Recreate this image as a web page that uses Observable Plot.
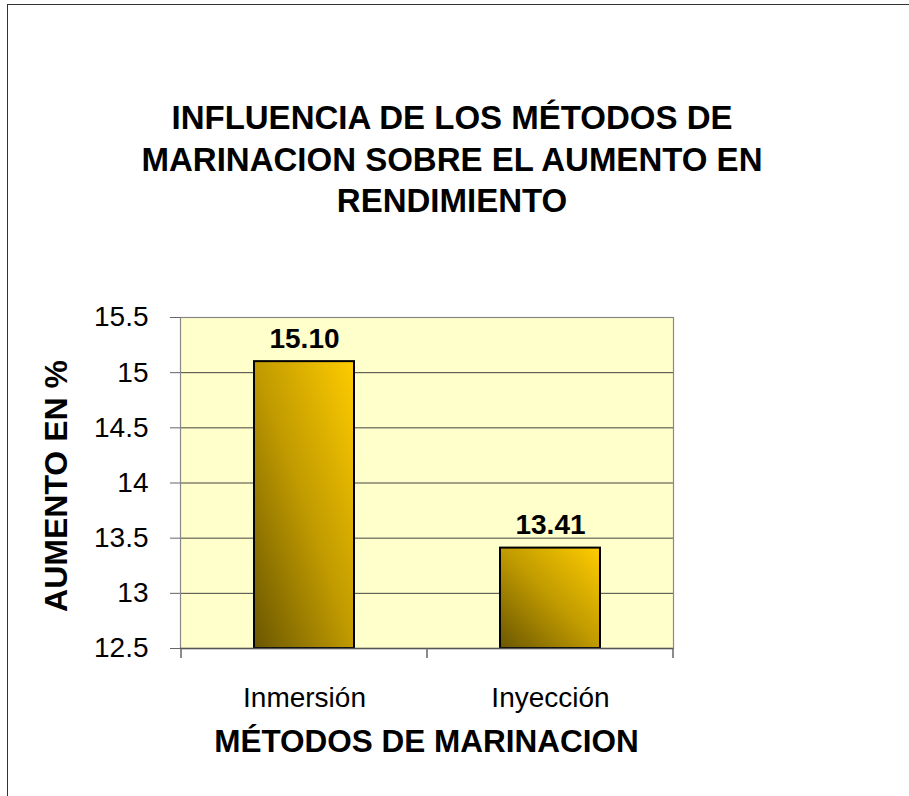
<!DOCTYPE html>
<html>
<head>
<meta charset="utf-8">
<script src="https://cdn.jsdelivr.net/npm/d3@7"></script>
<script src="https://cdn.jsdelivr.net/npm/@observablehq/plot@0.6"></script>
<style>
  html, body { margin: 0; padding: 0; background: #fff; }
  body { width: 909px; height: 796px; position: relative; overflow: hidden;
         font-family: "Liberation Sans", Arial, sans-serif; color: #000; }
  #chart { position: absolute; left: 0; top: 0; }
  #border { position: absolute; left: 7px; top: 4px; width: 1000px; height: 1000px;
            border-top: 1.5px solid #333; border-left: 1.5px solid #333; box-sizing: border-box; }
  .title { position: absolute; left: 0; width: 904px; top: 97px; text-align: center;
           font-weight: bold; font-size: 33px; line-height: 41.6px; }
  .xlabel { position: absolute; left: 426.5px; top: 726px; transform: translateX(-50%);
            font-weight: bold; font-size: 31.5px; line-height: 1; white-space: nowrap; }
  .ylabel { position: absolute; left: 55.6px; top: 486px; transform: translate(-50%, -50%) rotate(-90deg);
            font-weight: bold; font-size: 32px; line-height: 1; white-space: nowrap; }
</style>
</head>
<body>
<div id="chart"></div>
<div id="border"></div>
<div class="title">INFLUENCIA DE LOS MÉTODOS DE<br>MARINACION SOBRE EL AUMENTO EN<br>RENDIMIENTO</div>
<div class="ylabel">AUMENTO EN %</div>
<div class="xlabel">MÉTODOS DE MARINACION</div>
<script>
const categories = ["Inmersión", "Inyección"];
const values = [15.10, 13.41];
const yTicks = [12.5, 13, 13.5, 14, 14.5, 15, 15.5];

const data = categories.map((c, i) => ({category: c, value: values[i]}));
const yMin = yTicks[0];
const yMax = yTicks[yTicks.length - 1];

const W = 909, H = 796;
const mL = 180, mR = 236, mT = 317, mB = 148;

const plot = Plot.plot({
  width: W,
  height: H,
  marginLeft: mL,
  marginRight: mR,
  marginTop: mT,
  marginBottom: mB,
  style: {background: "transparent", fontFamily: "'Liberation Sans', Arial, sans-serif", fontSize: "28px", color: "#000"},
  x: {domain: categories, paddingInner: 0.594, paddingOuter: 0.297, label: null},
  y: {domain: [yMin, yMax], label: null},
  marks: [
    Plot.frame({fill: "#FFFFCC", stroke: null}),
    Plot.ruleY(yTicks, {stroke: "#444", strokeWidth: 1}),
    Plot.frame({stroke: "#888", strokeWidth: 1.2}),
    Plot.barY(data, {x: "category", y1: () => yMin, y2: "value", fill: "url(#barGrad)", stroke: "#000", strokeWidth: 2}),
    Plot.text(data, {x: "category", y: "value", text: d => d.value.toFixed(2), fontWeight: "bold", fontSize: 28, lineAnchor: "bottom", dy: -14, fill: "#000"}),
    Plot.axisY(yTicks, {tickSize: 10, tickPadding: 22, tickFormat: d => String(d), stroke: "#666", fontSize: 28, label: null}),
    Plot.axisX({tickSize: 0, tickPadding: 39, fontSize: 28, label: null}),
    Plot.ruleY([yMin], {stroke: "#555", strokeWidth: 1.5})
  ]
});

document.getElementById("chart").appendChild(plot);

// gradient definition for the bars
const svg = d3.select(plot);
const defs = svg.insert("defs", ":first-child");
const g = defs.append("linearGradient").attr("id", "barGrad")
  .attr("x1", 0).attr("y1", 1).attr("x2", 1).attr("y2", 0);
g.append("stop").attr("offset", "0%").attr("stop-color", "#6A5600");
g.append("stop").attr("offset", "50%").attr("stop-color", "#C09A00");
g.append("stop").attr("offset", "100%").attr("stop-color", "#FFCC00");

// category boundary ticks using the x band scale
const xs = plot.scale("x");
const step = xs.step;
const bounds = categories.map(c => xs.apply(c) - (step - xs.bandwidth) / 2);
bounds.push(xs.apply(categories[categories.length - 1]) + xs.bandwidth + (step - xs.bandwidth) / 2);
const ys = plot.scale("y");
const yb = ys.apply(yMin);
svg.append("g").selectAll("line").data(bounds).join("line")
  .attr("x1", d => d).attr("x2", d => d)
  .attr("y1", yb).attr("y2", yb + 10)
  .attr("stroke", "#666").attr("stroke-width", 1.5);
</script>
</body>
</html>
